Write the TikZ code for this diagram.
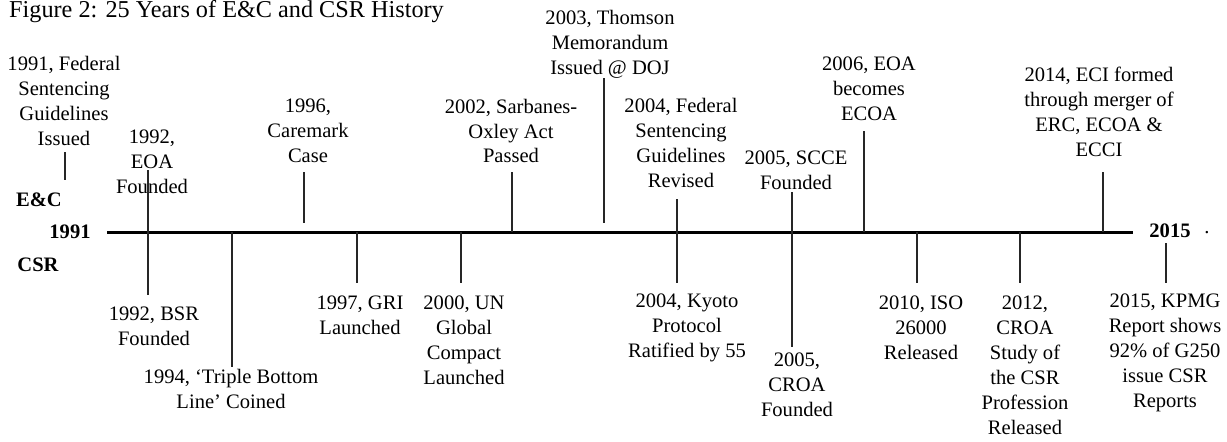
\documentclass[tikz,border=0pt]{standalone}
\usepackage{fontspec}
\setmainfont{Liberation Serif}
\newcommand{\evfont}{\fontsize{11.7}{14.2}\selectfont}
\newcommand{\titlefont}{\fontsize{13.8}{16}\selectfont}

\begin{document}
\begin{tikzpicture}[x=0.02cm, y=-0.02cm, font=\evfont, black,
  event/.style={align=center, inner sep=0pt},
  side/.style={font=\evfont\bfseries, inner sep=0pt},
  tick/.style={line width=1.1pt, black!85},
  axis/.style={line width=1.7pt}]

  \useasboundingbox (0,0) rectangle (1227,441);

  \node[anchor=base west, font=\titlefont] (title) at (3,17.5) {Figure 2: 25 Years of E\&C and CSR History};

  % the time line
  \coordinate (start) at (107,232);
  \coordinate (end) at (1133,232);
  \draw[axis] (start) -- (end);

  \node[side] (ec) at (39,200) {E\&C};
  \node[side] (csr) at (38,265) {CSR};
  \node[side] (y91) at (70,232) {1991};
  \node[side] (y15) at (1170,231) {2015};
  \node[inner sep=0pt] (dot) at (1207,233) {.};

  % E&C events
  \node[event] (ec91) at (64,101) {1991, Federal\\Sentencing\\Guidelines\\Issued};
  \node[event] (ec92) at (152,162) {1992,\\EOA\\Founded};
  \node[event] (ec96) at (308,131) {1996,\\Caremark\\Case};
  \node[event] (ec02) at (511,131) {2002, Sarbanes-\\Oxley Act\\Passed};
  \node[event] (ec03) at (610,44) {2003, Thomson\\Memorandum\\Issued @ DOJ};
  \node[event] (ec04) at (681,143) {2004, Federal\\Sentencing\\Guidelines\\Revised};
  \node[event] (ec05) at (796,170) {2005, SCCE\\Founded};
  \node[event] (ec06) at (869,89) {2006, EOA\\becomes\\ECOA};
  \node[event] (ec14) at (1099,112) {2014, ECI formed\\through merger of\\ERC, ECOA \&\\ECCI};

  \draw[tick] (65,152) -- (65,180);
  \draw[tick] (148,170) -- (148,232);
  \draw[tick] (304,172) -- (304,223);
  \draw[tick] (512,172) -- (512,232);
  \draw[tick] (604,78) -- (604,223);
  \draw[tick] (677,199) -- (677,232);
  \draw[tick] (792,192) -- (792,232);
  \draw[tick] (864,131) -- (864,232);
  \draw[tick] (1103,172) -- (1103,232);

  % CSR events
  \node[event] (csr92) at (154,326) {1992, BSR\\Founded};
  \node[event] (csr94) at (231,389) {1994, `Triple Bottom\\Line' Coined};
  \node[event] (csr97) at (360,315) {1997, GRI\\Launched};
  \node[event] (csr00) at (464,340) {2000, UN\\Global\\Compact\\Launched};
  \node[event] (csr04) at (687,328) {2004, Kyoto\\Protocol\\Ratified by 55};
  \node[event] (csr05) at (797,385) {2005,\\CROA\\Founded};
  \node[event] (csr10) at (921,328) {2010, ISO\\26000\\Released};
  \node[event] (csr12) at (1025,365) {2012,\\CROA\\Study of\\the CSR\\Profession\\Released};
  \node[event] (csr15) at (1165,353) {2015, KPMG\\Report shows\\92\% of G250\\issue CSR\\Reports};

  \draw[tick] (148,232) -- (148,295);
  \draw[tick] (232,232) -- (232,367);
  \draw[tick] (357,232) -- (357,283);
  \draw[tick] (461,232) -- (461,283);
  \draw[tick] (677,232) -- (677,283);
  \draw[tick] (792,232) -- (792,347);
  \draw[tick] (917,232) -- (917,283);
  \draw[tick] (1020,232) -- (1020,283);
  \draw[tick] (1166,243) -- (1166,283);

\end{tikzpicture}
\end{document}
